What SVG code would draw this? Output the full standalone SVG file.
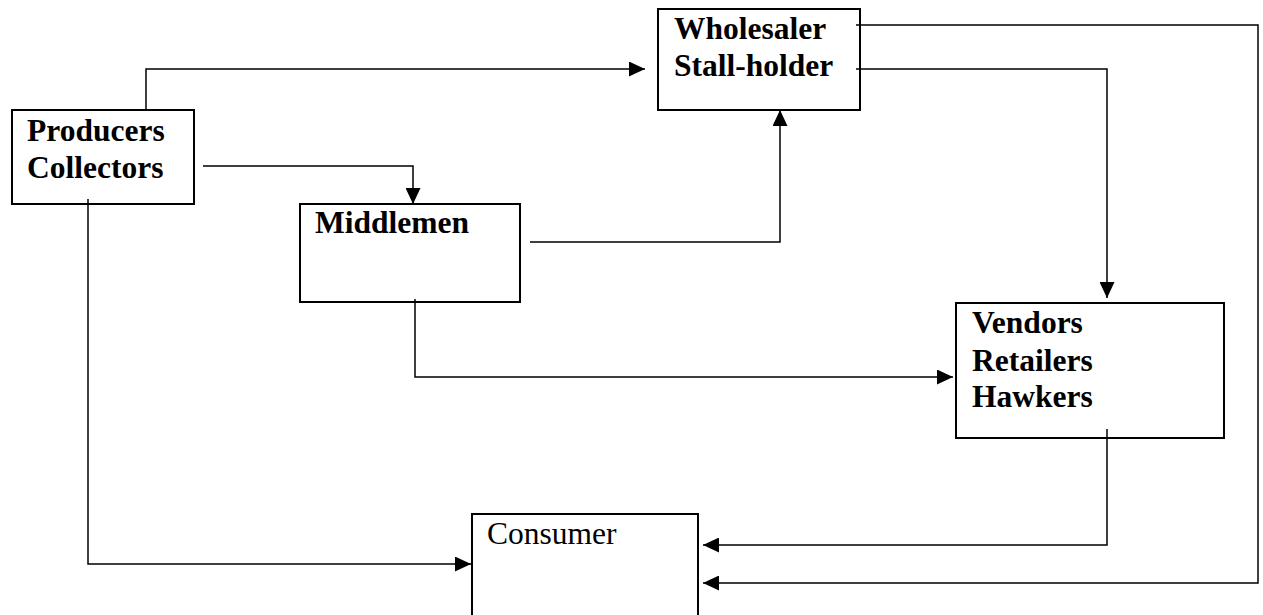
<svg xmlns="http://www.w3.org/2000/svg" width="1263" height="615" viewBox="0 0 1263 615">
<style>
.box{fill:none;stroke:#000;stroke-width:2}
.t{font-family:"Liberation Serif","Times New Roman",serif;font-size:31.5px;font-weight:bold;fill:#000}
.n{font-family:"Liberation Serif","Times New Roman",serif;font-size:31.5px;fill:#000}
.c{fill:none;stroke:#000;stroke-width:1.5}
</style>
<defs>
<marker id="ah" markerUnits="userSpaceOnUse" markerWidth="17" markerHeight="15" refX="16" refY="7.5" orient="auto">
<path d="M0,0 L16,7.5 L0,15 Z" fill="#000"/>
</marker>
</defs>
<rect width="1263" height="615" fill="#fff"/>
<g id="producers">
<rect class="box" x="12" y="110" width="182" height="94"/>
<text class="t" x="27" y="141">Producers</text>
<text class="t" x="27" y="178">Collectors</text>
</g>
<g id="wholesaler">
<rect class="box" x="658" y="9" width="202" height="101"/>
<text class="t" x="674" y="39">Wholesaler</text>
<text class="t" x="674" y="76">Stall-holder</text>
</g>
<g id="middlemen">
<rect class="box" x="300" y="204" width="220" height="98"/>
<text class="t" x="315" y="233">Middlemen</text>
</g>
<g id="vendors">
<rect class="box" x="956" y="303" width="268" height="135"/>
<text class="t" x="972" y="333">Vendors</text>
<text class="t" x="972" y="371">Retailers</text>
<text class="t" x="972" y="407">Hawkers</text>
</g>
<g id="consumer">
<rect class="box" x="472" y="514" width="226" height="110"/>
<text class="n" x="487" y="544">Consumer</text>
</g>
<g id="connectors">
<path class="c" d="M146,110 V69 H645" marker-end="url(#ah)"/>
<path class="c" d="M203,166 H413 V204" marker-end="url(#ah)"/>
<path class="c" d="M88,199 V564 H471" marker-end="url(#ah)"/>
<path class="c" d="M530,242 H780 V110" marker-end="url(#ah)"/>
<path class="c" d="M415,299 V377 H953" marker-end="url(#ah)"/>
<path class="c" d="M856,25 H1258 V583 H703" marker-end="url(#ah)"/>
<path class="c" d="M856,69 H1107 V298" marker-end="url(#ah)"/>
<path class="c" d="M1107,429 V545 H703" marker-end="url(#ah)"/>
</g>
</svg>
